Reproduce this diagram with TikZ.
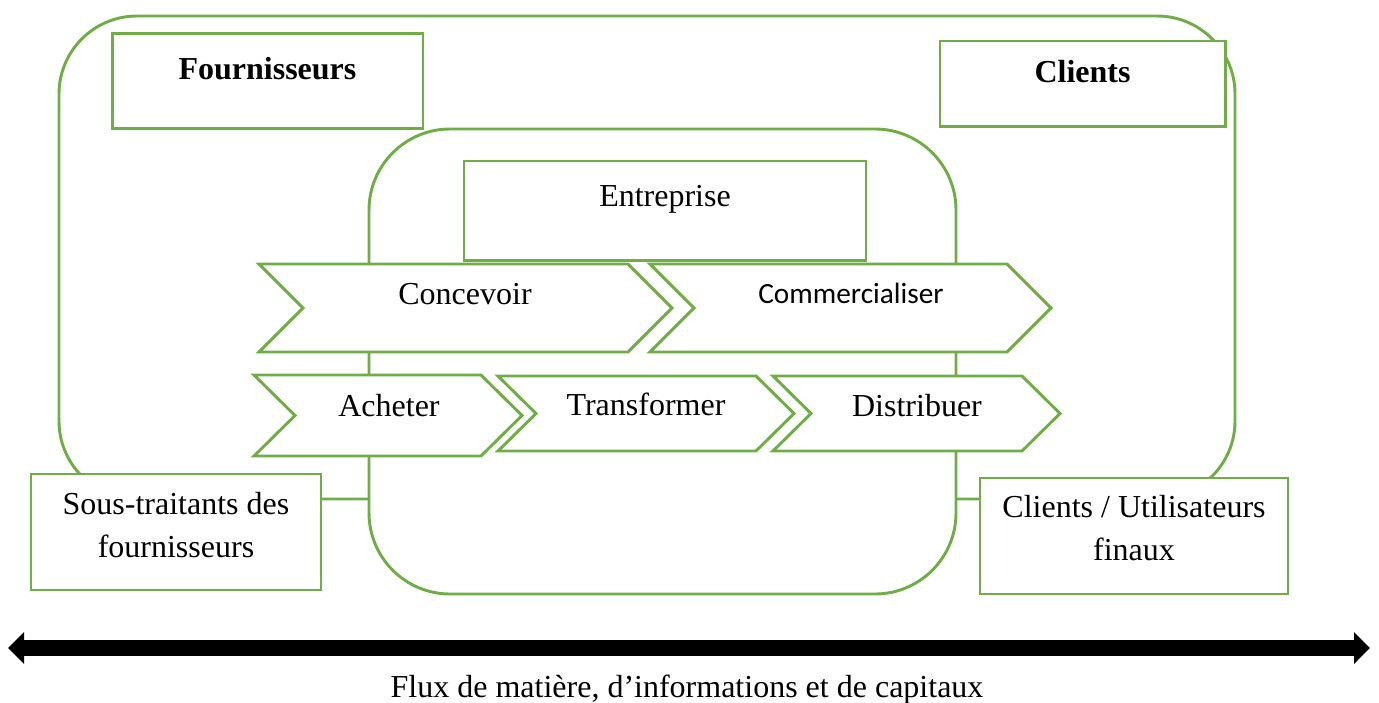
\documentclass[tikz,border=0pt]{standalone}
\usepackage{fontspec}
\setmainfont{Liberation Serif}
\newfontfamily\calibrifont{Carlito}
\usetikzlibrary{arrows.meta}
\definecolor{leaf}{HTML}{70AD47}

% chevron: left x, tip x, top y, bottom y, notch depth
\newcommand\chevron[5]{%
  \draw[chevshape] (#1,#3) -- ({#2-#5},#3) -- (#2,{(#3+#4)/2})
    -- ({#2-#5},#4) -- (#1,#4) -- ({#1+#5},{(#3+#4)/2}) -- cycle;}

\begin{document}
\begin{tikzpicture}[x=0.375pt,y=-0.375pt,
  frame/.style={draw=leaf, line width=1.1pt},
  box/.style={frame, fill=white, inner sep=0pt, align=center,
    font=\fontsize{12}{16.1}\selectfont},
  chevshape/.style={frame, fill=white, line join=miter},
  lbl/.style={anchor=base, inner sep=0pt, font=\fontsize{12}{14}\selectfont},
  flowtip/.tip={Triangle[length=6pt,width=11.6pt]},
]
\useasboundingbox (0,0) rectangle (1379,702);

% supply chain and company frames
\draw[frame, rounded corners=29.25pt] (59,16) rectangle (1235,499);
\draw[frame, fill=white, rounded corners=30.4pt] (369,129) rectangle (956,594);

% actor boxes
\node[box, minimum width=116.6pt, text height=16.9pt, text depth=18.4pt]
  (fournisseurs) at (267.5,81) {\textbf{Fournisseurs}};
\node[box, minimum width=106.9pt, text height=15.4pt, text depth=16.5pt]
  (clients) at (1082.5,83.5) {\textbf{Clients}};
\node[box, minimum width=150.75pt, text height=17.25pt, text depth=19.9pt]
  (entreprise) at (665,210.5) {Entreprise};
\node[box, minimum width=108.75pt, minimum height=43.5pt]
  (soustraitants) at (176,532) {Sous-traitants des\\fournisseurs\rule[-5.6pt]{0pt}{0pt}};
\node[box, minimum width=115.5pt, minimum height=43.5pt]
  (utilisateurs) at (1134,536) {Clients / Utilisateurs\\finaux\rule[-6.4pt]{0pt}{0pt}};

% process chevrons
\chevron{259}{672}{264}{352}{44}
\chevron{650}{1051}{264}{352}{44}
\chevron{254}{522}{375}{456}{41}
\chevron{498}{794}{376}{451}{38}
\chevron{773}{1060}{376}{451}{38}

\node[lbl] (concevoir) at (465,304) {Concevoir};
\node[lbl, font=\calibrifont\fontsize{11}{13}\selectfont] (commercialiser) at (851,303) {Commercialiser};
\node[lbl] (acheter) at (389,416) {Acheter};
\node[lbl] (transformer) at (646,415) {Transformer};
\node[lbl] (distribuer) at (917,416) {Distribuer};

% flow arrow
\coordinate (fluxL) at (8,648);
\coordinate (fluxR) at (1370,648);
\draw[line width=6pt, flowtip-flowtip] (fluxL) -- (fluxR);
\node[lbl] (flux) at (687,697) {Flux de matière, d’informations et de capitaux};
\end{tikzpicture}
\end{document}
